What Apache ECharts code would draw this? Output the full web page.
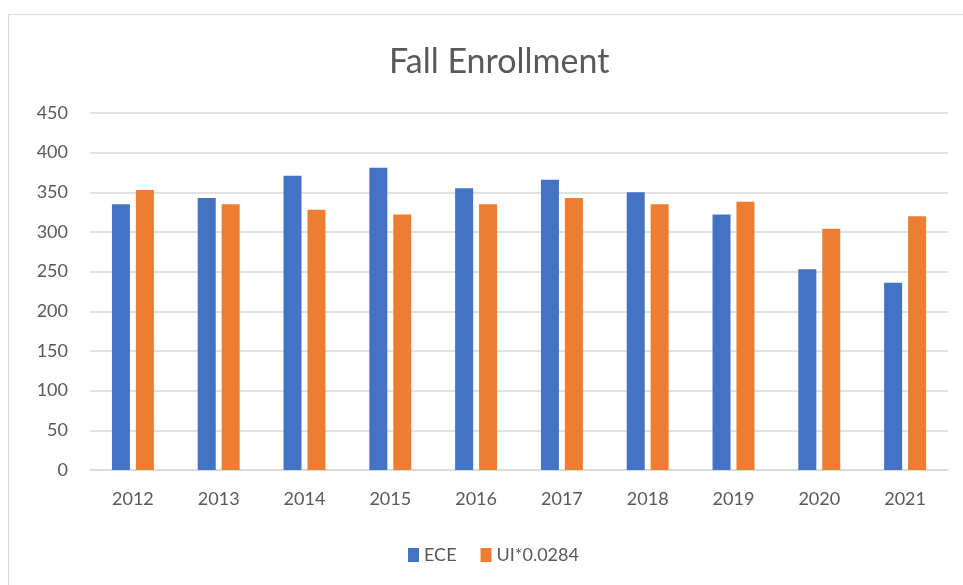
<!DOCTYPE html>
<html>
<head>
<meta charset="utf-8">
<script src="https://cdn.jsdelivr.net/npm/echarts@6/dist/echarts.min.js"></script>
<style>
  html, body { margin: 0; padding: 0; background: #ffffff; }
  #frame {
    position: absolute; left: 8px; top: 14px; width: 970px; height: 590px;
    border: 1px solid #d9d9d9; box-sizing: border-box;
  }
  #chart { position: absolute; left: 0; top: 0; width: 963px; height: 585px; }
</style>
</head>
<body>
<div id="frame"></div>
<div id="chart"></div>
<script>
const years = ['2012', '2013', '2014', '2015', '2016', '2017', '2018', '2019', '2020', '2021']
const eceValues = [335, 343, 371, 381, 355, 366, 350, 322, 253, 236]
const uiValues = [353, 335, 328, 322, 335, 343, 335, 338, 304, 320]
const seriesNames = ['ECE', 'UI*0.0284']

const FONT = 'Lato, "Open Sans", sans-serif'
const TEXT_COLOR = '#595959'

const chart = echarts.init(document.getElementById('chart'))

chart.setOption({
  animation: false,
  title: {
    text: 'Fall Enrollment',
    left: 384,
    top: 40,
    textStyle: {
      fontFamily: FONT,
      fontSize: 34,
      fontWeight: 'normal',
      color: TEXT_COLOR
    }
  },
  legend: {
    left: 403,
    top: 541,
    itemWidth: 11,
    itemHeight: 14,
    itemGap: 24,
    icon: 'rect',
    textStyle: {
      fontFamily: FONT,
      fontSize: 18,
      color: TEXT_COLOR
    },
    data: seriesNames
  },
  grid: {
    left: 90,
    right: 15,
    top: 113,
    bottom: 115
  },
  xAxis: {
    type: 'category',
    data: years,
    axisTick: { show: false },
    axisLine: { lineStyle: { color: '#d9d9d9', width: 1.5 } },
    axisLabel: {
      fontFamily: FONT,
      fontSize: 18,
      color: TEXT_COLOR,
      margin: 20
    }
  },
  yAxis: {
    type: 'value',
    min: 0,
    max: 450,
    interval: 50,
    axisLine: { show: false },
    axisTick: { show: false },
    splitLine: { lineStyle: { color: '#d9d9d9', width: 1.5 } },
    axisLabel: {
      fontFamily: FONT,
      fontSize: 18,
      color: TEXT_COLOR,
      margin: 22
    }
  },
  series: [
    {
      name: seriesNames[0],
      type: 'bar',
      data: eceValues,
      barWidth: 18,
      barGap: '33%',
      itemStyle: { color: '#4472c4' }
    },
    {
      name: seriesNames[1],
      type: 'bar',
      data: uiValues,
      barWidth: 18,
      barGap: '33%',
      itemStyle: { color: '#ed7d31' }
    }
  ]
})
</script>
</body>
</html>
